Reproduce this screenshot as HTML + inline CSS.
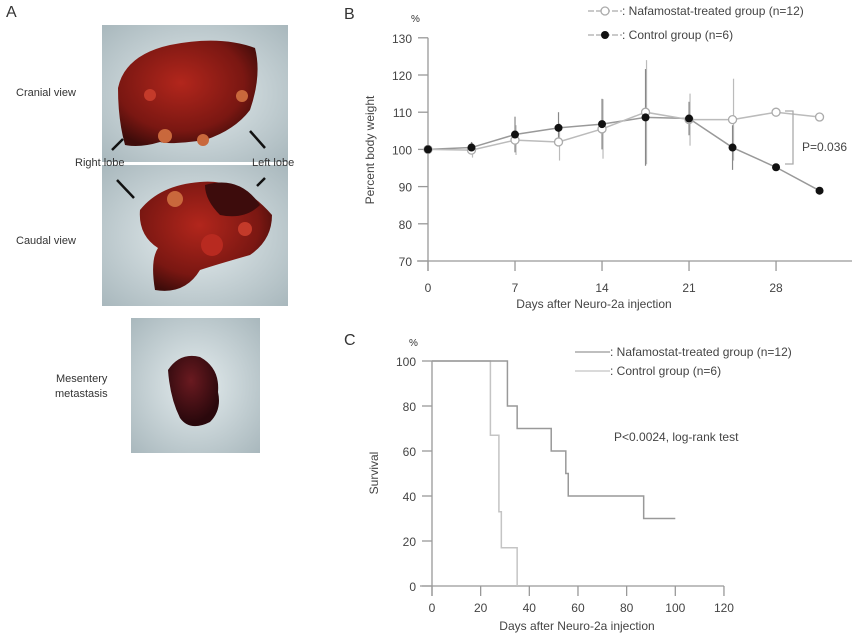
<!DOCTYPE html>
<html><head><meta charset="utf-8"><style>
body{margin:0;background:#fff;}
svg{display:block;font-family:"Liberation Sans",sans-serif;}
</style></head><body>
<svg width="860" height="639" viewBox="0 0 860 639">
<defs>
<radialGradient id="bg" cx="50%" cy="50%" r="70%"><stop offset="0" stop-color="#e4ecee"/><stop offset="1" stop-color="#a9b8bd"/></radialGradient>
<radialGradient id="liv" cx="45%" cy="40%" r="65%"><stop offset="0" stop-color="#b2261c"/><stop offset="0.7" stop-color="#7a1712"/><stop offset="1" stop-color="#3e0c0a"/></radialGradient>
<radialGradient id="met" cx="45%" cy="35%" r="60%"><stop offset="0" stop-color="#6a1a20"/><stop offset="1" stop-color="#2a080c"/></radialGradient>
</defs>
<!-- Panel A -->
<g>
<text x="6" y="17" font-size="16" fill="#333">A</text>
<rect x="102" y="25" width="186" height="137" fill="url(#bg)"/>
<path d="M118 88 Q125 55 170 45 Q220 35 255 48 Q262 75 250 110 Q235 130 205 140 Q170 145 160 142 Q140 148 125 145 Q118 120 118 88Z" fill="url(#liv)"/>
<circle cx="165" cy="136" r="7" fill="#c9683c"/><circle cx="203" cy="140" r="6" fill="#c9683c"/><circle cx="242" cy="96" r="6" fill="#c9683c"/><circle cx="150" cy="95" r="6" fill="#c43a2a"/>
<rect x="102" y="165" width="186" height="141" fill="url(#bg)"/>
<path d="M140 210 Q160 185 200 182 Q240 178 272 215 Q272 240 250 255 Q215 265 200 270 Q185 295 155 290 Q150 260 158 248 Q138 235 140 210Z" fill="url(#liv)"/>
<path d="M205 185 Q240 175 260 205 Q245 220 220 215 Q205 200 205 185Z" fill="#3d0c0c"/>
<circle cx="175" cy="199" r="8" fill="#c9683c"/><circle cx="212" cy="245" r="11" fill="#b82a20"/><circle cx="245" cy="229" r="7" fill="#c43a2a"/>
<rect x="131" y="318" width="129" height="135" fill="url(#bg)"/>
<path d="M168 370 Q180 352 200 357 Q220 368 218 392 Q222 410 210 422 Q190 432 180 418 Q170 398 168 370Z" fill="url(#met)"/>
<g stroke="#111" stroke-width="2.5" fill="#111">
<line x1="112" y1="150" x2="123" y2="139"/><line x1="265" y1="148" x2="250" y2="131"/>
<line x1="117" y1="180" x2="134" y2="198"/><line x1="265" y1="178" x2="257" y2="186"/>
</g>
<text x="16" y="96" font-size="11" fill="#333">Cranial view</text>
<text x="16" y="244" font-size="11" fill="#333">Caudal view</text>
<text x="75" y="166" font-size="11" fill="#333">Right lobe</text>
<text x="252" y="166" font-size="11" fill="#333">Left lobe</text>
<text x="56" y="382" font-size="11" fill="#333">Mesentery</text>
<text x="55" y="397" font-size="11" fill="#333">metastasis</text>
</g>
<g id="chartB"></g>
<g id="chartC"></g>
</svg>
<script>
const NS='http://www.w3.org/2000/svg';
function mk(p,t,a,txt){const e=document.createElementNS(NS,t);for(const k in a)e.setAttribute(k,a[k]);if(txt!=null)e.textContent=txt;p.appendChild(e);return e;}
// ---- Panel B data ----
const bDays=[0,3.5,7,10.5,14,17.5,21,24.5,28,31.5];
const bNafa=[100,99.8,102.5,102,105.5,110,108,108,110,108.7];
const bNafaErr=[0,2,4,5,8,14,7,11,0,0];
const bCtrl=[100,100.5,104,105.8,106.8,108.6,108.3,100.5,95.2,88.9];
const bCtrlErr=[0,1.5,4.8,4.2,6.8,13,4.5,6,0,0];
const bYTicks=[70,80,90,100,110,120,130];
const bXTicks=[0,7,14,21,28];
// ---- Panel C data ----
const cNafaT=[0,31,31,35,35,49,49,55,55,56,56,87,87,100];
const cNafaS=[100,100,80,80,70,70,60,60,50,50,40,40,30,30];
const cCtrlT=[0,24,24,27.5,27.5,28.5,28.5,35,35];
const cCtrlS=[100,100,67,67,33,33,17,17,0];
const cYTicks=[0,20,40,60,80,100];
const cXTicks=[0,20,40,60,80,100,120];

(function(){
const g=document.getElementById('chartB');
const x=d=>428+d*12.43, y=v=>261-(v-70)*3.72;
const ax='#999';
mk(g,'text',{x:344,y:19,'font-size':16,fill:'#333',},'B');
mk(g,'text',{x:411,y:22,'font-size':10,fill:'#333',},'%');
mk(g,'line',{x1:428,y1:y(130),x2:428,y2:y(70)+10,stroke:ax,'stroke-width':1.3,});
mk(g,'line',{x1:417,y1:y(70),x2:852,y2:y(70),stroke:ax,'stroke-width':1.3,});
bYTicks.forEach(v=>{mk(g,'line',{x1:418,x2:428,y1:y(v),y2:y(v),stroke:ax,'stroke-width':1.3});
 const t=mk(g,'text',{x:412,y:y(v)+5,'font-size':12,fill:'#444','text-anchor':'end'},v);
 });
bXTicks.forEach(d=>{mk(g,'line',{x1:x(d),x2:x(d),y1:y(70),y2:y(70)+10,stroke:ax,'stroke-width':1.3});
 const t=mk(g,'text',{x:x(d),y:292,'font-size':12,fill:'#444','text-anchor':'middle'},d);
 });
const xt=mk(g,'text',{x:594,y:308,'font-size':12,fill:'#444','text-anchor':'middle'},'Days after Neuro-2a injection');

const yt=mk(g,'text',{x:374,y:150,'font-size':12,fill:'#444','text-anchor':'middle',transform:'rotate(-90 374 150)'},'Percent body weight');

// error bars
bDays.forEach((d,i)=>{
 if(bNafaErr[i]) mk(g,'line',{x1:x(d)+1,x2:x(d)+1,y1:y(bNafa[i]-bNafaErr[i]),y2:y(bNafa[i]+bNafaErr[i]),stroke:'#bbb','stroke-width':1.2});
 if(bCtrlErr[i]) mk(g,'line',{x1:x(d),x2:x(d),y1:y(bCtrl[i]-bCtrlErr[i]),y2:y(bCtrl[i]+bCtrlErr[i]),stroke:'#888','stroke-width':1.2});
});
const pl=(arr,c)=>bDays.map((d,i)=>x(d)+','+y(arr[i])).join(' ');
const l1=mk(g,'polyline',{points:pl(bCtrl),fill:'none',stroke:'#999','stroke-width':1.5});

const l2=mk(g,'polyline',{points:pl(bNafa),fill:'none',stroke:'#bbb','stroke-width':1.5});

bDays.forEach((d,i)=>{
 const a=mk(g,'circle',{cx:x(d),cy:y(bNafa[i]),r:4,fill:'#fff',stroke:'#aaa','stroke-width':1.3});
 
 const b=mk(g,'circle',{cx:x(d),cy:y(bCtrl[i]),r:4,fill:'#111'});
 
});
// bracket
mk(g,'polyline',{points:'785,111 793,111 793,164 785,164',fill:'none',stroke:'#aaa','stroke-width':1.3,});
mk(g,'text',{x:802,y:151,'font-size':12,fill:'#444',},'P=0.036');
// legend
mk(g,'line',{x1:588,x2:622,y1:11,y2:11,stroke:'#aaa','stroke-width':1.3,'stroke-dasharray':'6,2'});
mk(g,'circle',{cx:605,cy:11,r:4,fill:'#fff',stroke:'#aaa','stroke-width':1.3,});
mk(g,'text',{x:622,y:15,'font-size':12,fill:'#444',},': Nafamostat-treated group (n=12)');
mk(g,'line',{x1:588,x2:622,y1:35,y2:35,stroke:'#aaa','stroke-width':1.3,'stroke-dasharray':'6,2'});
mk(g,'circle',{cx:605,cy:35,r:4,fill:'#111',});
mk(g,'text',{x:622,y:39,'font-size':12,fill:'#444',},': Control group (n=6)');
})();

(function(){
const g=document.getElementById('chartC');
const x=d=>432+d*2.433, y=v=>586-v*2.25;
const ax='#999';
mk(g,'text',{x:344,y:345,'font-size':16,fill:'#333',},'C');
mk(g,'text',{x:409,y:346,'font-size':10,fill:'#333',},'%');
mk(g,'line',{x1:432,y1:y(100),x2:432,y2:y(0)+10,stroke:ax,'stroke-width':1.3,});
mk(g,'line',{x1:420,y1:y(0),x2:x(120),y2:y(0),stroke:ax,'stroke-width':1.3,});
cYTicks.forEach(v=>{mk(g,'line',{x1:422,x2:432,y1:y(v),y2:y(v),stroke:ax,'stroke-width':1.3});
 const t=mk(g,'text',{x:416,y:y(v)+5,'font-size':12,fill:'#444','text-anchor':'end'},v);
 });
cXTicks.forEach(d=>{mk(g,'line',{x1:x(d),x2:x(d),y1:y(0),y2:y(0)+10,stroke:ax,'stroke-width':1.3});
 const t=mk(g,'text',{x:x(d),y:612,'font-size':12,fill:'#444','text-anchor':'middle'},d);
 });
const xt=mk(g,'text',{x:577,y:630,'font-size':12,fill:'#444','text-anchor':'middle'},'Days after Neuro-2a injection');

const yt=mk(g,'text',{x:378,y:473,'font-size':12,fill:'#444','text-anchor':'middle',transform:'rotate(-90 378 473)'},'Survival');

const pts=(T,S)=>T.map((t,i)=>x(t)+','+y(S[i])).join(' ');
const a=mk(g,'polyline',{points:pts(cCtrlT,cCtrlS),fill:'none',stroke:'#c4c4c4','stroke-width':1.5});

const b=mk(g,'polyline',{points:pts(cNafaT,cNafaS),fill:'none',stroke:'#999','stroke-width':1.5});

mk(g,'line',{x1:575,x2:610,y1:352,y2:352,stroke:'#999','stroke-width':1.3});
mk(g,'text',{x:610,y:356,'font-size':12,fill:'#444',},': Nafamostat-treated group (n=12)');
mk(g,'line',{x1:575,x2:610,y1:371,y2:371,stroke:'#c4c4c4','stroke-width':1.3});
mk(g,'text',{x:610,y:375,'font-size':12,fill:'#444',},': Control group (n=6)');
mk(g,'text',{x:614,y:441,'font-size':12,fill:'#444',},'P<0.0024, log-rank test');
})();
</script>
</body></html>
